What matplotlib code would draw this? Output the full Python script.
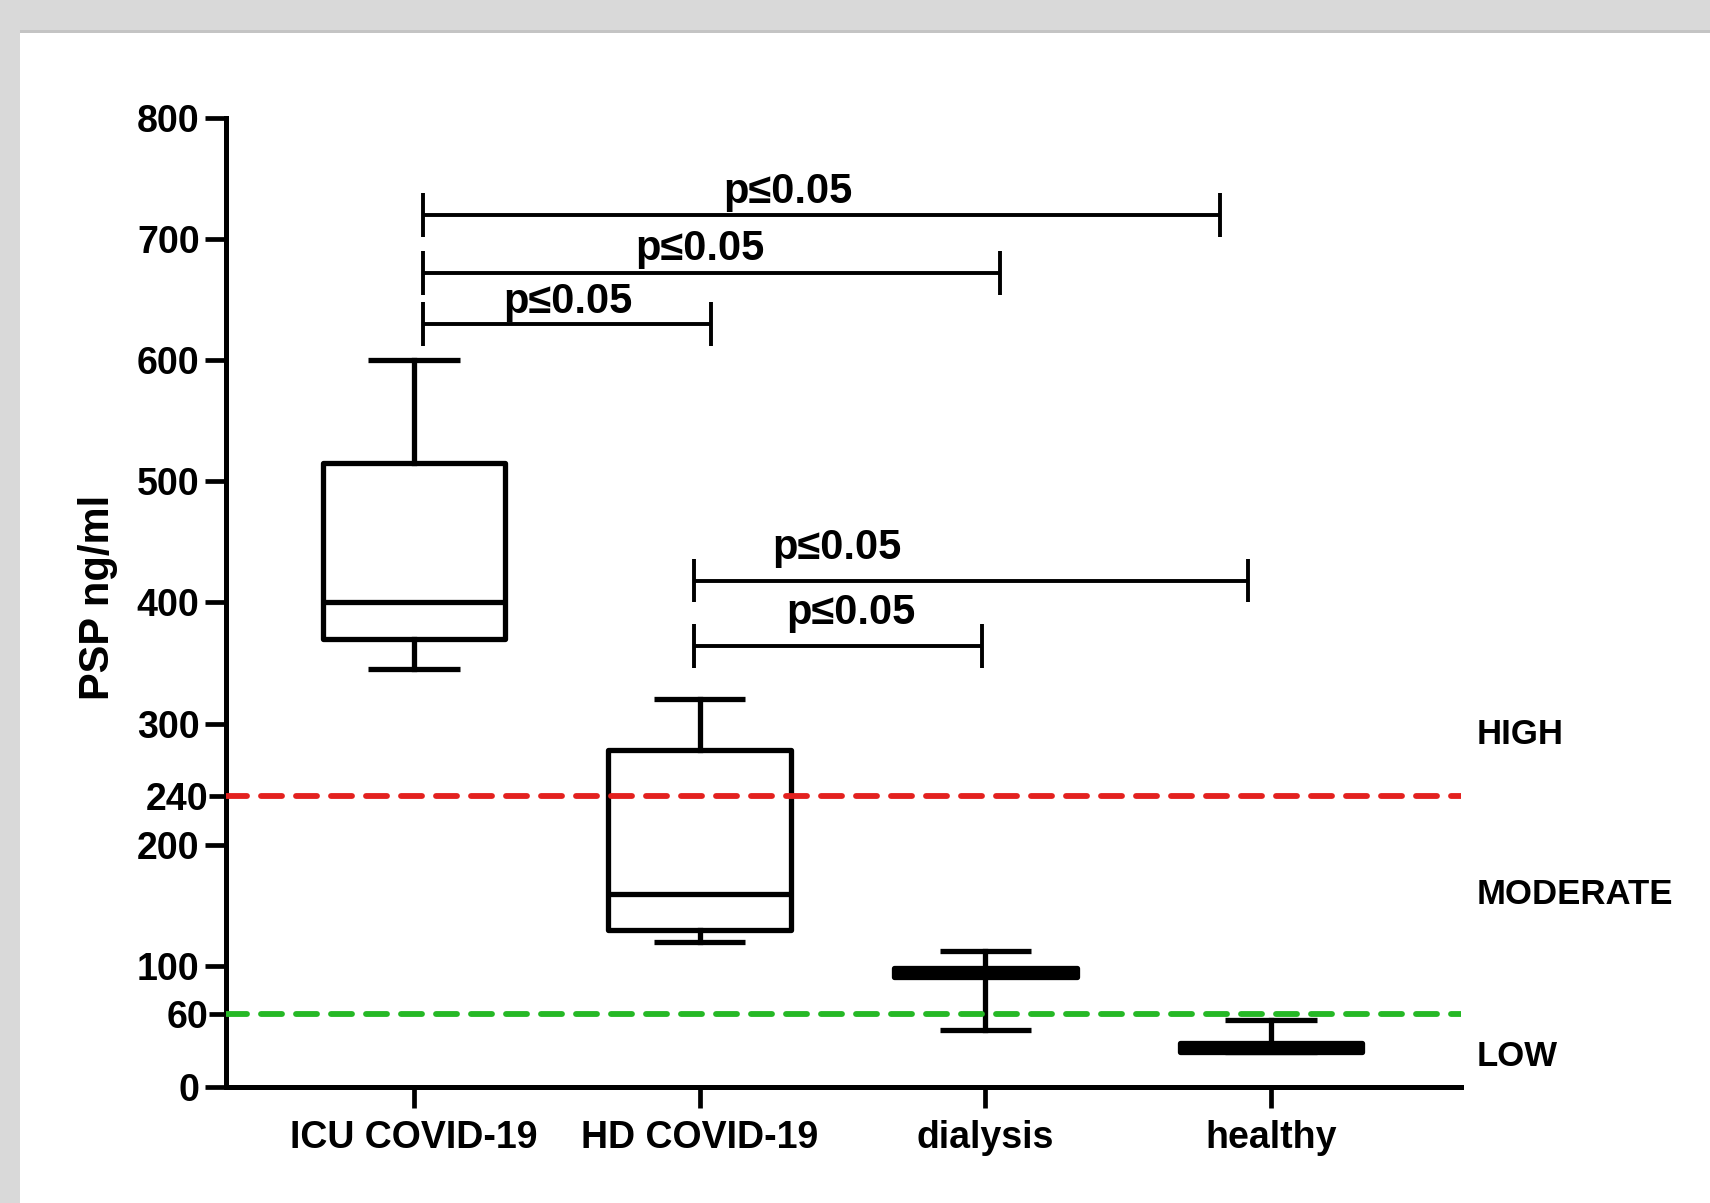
import matplotlib
matplotlib.use("Agg")
import matplotlib.pyplot as plt
from matplotlib.patches import Rectangle

# ---- data ----
categories = ["ICU COVID-19", "HD COVID-19", "dialysis", "healthy"]
whisker_low = [345, 120, 47, 28.5]
q1 = [370, 130, 91, 29]
median = [400, 159, 94.5, 32.5]
q3 = [515, 278, 98, 36]
whisker_high = [600, 320, 112, 55]
box_fill = ["white", "white", "black", "black"]

major_ticks = [0, 100, 200, 300, 400, 500, 600, 700, 800]
minor_ticks = [60, 240]
high_cut = 240
low_cut = 60

# significance brackets: (left x, right x, y, label x, label y)
br_left = [0.03, 0.03, 0.03, 0.98, 0.98]
br_right = [2.82, 2.05, 1.04, 2.92, 1.99]
br_y = [720, 672, 630, 418, 364]
br_label_x = [1.31, 1.00, 0.54, 1.48, 1.53]
br_label_y = [739, 692, 648, 445, 391]
br_label = "p\u22640.05"

zone_labels = ["HIGH", "MODERATE", "LOW"]
zone_label_y = [291, 159, 25]

FONT = "Liberation Sans"
plt.rcParams["font.family"] = [FONT, "DejaVu Sans"]
plt.rcParams["font.weight"] = "bold"

fig = plt.figure(figsize=(17.10, 12.03), dpi=100, facecolor="white")
# screenshot frame
fig.patches.append(Rectangle((0, 1 - 30 / 1203), 1, 30 / 1203, transform=fig.transFigure,
                             facecolor="#d9d9d9", edgecolor="none", zorder=-10))
fig.patches.append(Rectangle((0, 0), 20 / 1710, 1, transform=fig.transFigure,
                             facecolor="#d9d9d9", edgecolor="none", zorder=-10))
fig.patches.append(Rectangle((20 / 1710, 1 - 33 / 1203), 1, 3 / 1203, transform=fig.transFigure,
                             facecolor="#c4c4c4", edgecolor="none", zorder=-9))

ax = fig.add_axes([226 / 1710, 116 / 1203, (1461 - 226) / 1710, (1087 - 117.8) / 1203])
ax.set_facecolor("none")

positions = list(range(len(categories)))
stats = []
for i in positions:
    stats.append(dict(whislo=whisker_low[i], q1=q1[i], med=median[i], q3=q3[i],
                      whishi=whisker_high[i], label=categories[i]))

lw = 3.8
bp = ax.bxp(stats, positions=positions, widths=0.64, capwidths=0.32, showfliers=False,
            patch_artist=True,
            boxprops=dict(edgecolor="black", linewidth=lw, joinstyle="round"),
            medianprops=dict(color="black", linewidth=lw, solid_capstyle="butt"),
            whiskerprops=dict(color="black", linewidth=lw),
            capprops=dict(color="black", linewidth=lw, solid_capstyle="butt"),
            manage_ticks=False)
for patch, fc in zip(bp["boxes"], box_fill):
    patch.set_facecolor(fc)

# cut-off lines
ax.axhline(high_cut, color="#e3211f", linewidth=4.2, dashes=(3.6, 2.4),
           dash_capstyle="round", zorder=3)
ax.axhline(low_cut, color="#25b825", linewidth=4.2, dashes=(3.6, 2.4),
           dash_capstyle="round", zorder=3)

# significance brackets
tick_h = 18
for xl, xr, y, lx, ly in zip(br_left, br_right, br_y, br_label_x, br_label_y):
    ax.plot([xl, xr], [y, y], color="black", linewidth=2.8, solid_capstyle="butt")
    ax.plot([xl, xl], [y - tick_h, y + tick_h], color="black", linewidth=2.8, solid_capstyle="butt")
    ax.plot([xr, xr], [y - tick_h, y + tick_h], color="black", linewidth=2.8, solid_capstyle="butt")
    ax.text(lx, ly, br_label, ha="center", va="center", fontsize=30, fontweight="bold",
            family=[FONT, "DejaVu Sans"])

# zone labels outside axes at right
for lab, y in zip(zone_labels, zone_label_y):
    ax.text(1.013, y, lab, transform=ax.get_yaxis_transform(), ha="left", va="center",
            fontsize=25, fontweight="bold", clip_on=False)

ax.set_xlim(-0.658, 3.665)
ax.set_ylim(0, 800)
ax.set_xticks(positions)
ax.set_xticklabels(categories, fontsize=27, fontweight="bold")
ax.set_yticks(major_ticks)
ax.set_yticklabels([str(v) for v in major_ticks], fontsize=27, fontweight="bold")
ax.set_yticks(minor_ticks, minor=True)
ax.set_yticklabels([str(v) for v in minor_ticks], minor=True, fontsize=27, fontweight="bold")

ax.tick_params(axis="y", which="major", length=15, width=3.4, pad=4)
ax.tick_params(axis="y", which="minor", length=12, width=3.4, pad=1)
ax.tick_params(axis="x", which="major", length=15, width=3.4, pad=9)

for s in ["top", "right"]:
    ax.spines[s].set_visible(False)
for s in ["left", "bottom"]:
    ax.spines[s].set_linewidth(3.6)
    ax.spines[s].set_capstyle("projecting")

ax.set_ylabel("PSP ng/ml", fontsize=30, fontweight="bold", va="center")
ax.yaxis.set_label_coords(-0.1036, 0.505)

fig.savefig("out.png", dpi=100, facecolor=fig.get_facecolor())
